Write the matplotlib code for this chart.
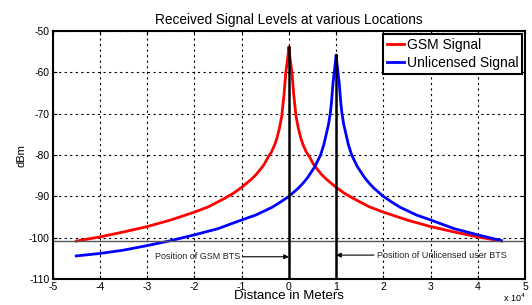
import numpy as np
import matplotlib.pyplot as plt
from matplotlib.ticker import FuncFormatter

# posicoes das BTS (m)
gsm_bts = 0
unl_bts = 10000

# distancia a partir da BTS (m) e nivel (dBm)
gsm_dist = [0, 150, 300, 650, 1000, 1500, 2000, 2500, 3000, 3700, 4400, 5200, 6000, 7000,
            8000, 10000, 11700, 13500, 17000, 20000, 25000, 30000, 35000, 40000, 45000]
gsm_dbm = [-53.8, -55.5, -57.0, -60.0, -65.0, -70.5, -73.5, -75.8, -77.5, -79.3, -80.5,
           -82.2, -83.4, -84.8, -85.9, -87.8, -89.2, -90.4, -92.5, -93.8, -95.7, -97.3,
           -98.6, -99.8, -100.8]

unl_dist = [0, 150, 300, 650, 1000, 1250, 1600, 2000, 2600, 3300, 4500, 5200, 6000, 7000,
            8000, 10000, 11700, 13500, 17000, 20000, 25000, 30000, 35000, 40000, 45000,
            50000, 55000]
unl_dbm = [-55.8, -57.5, -59.0, -62.5, -67.5, -70.0, -72.5, -74.5, -77.5, -80.0, -82.8,
           -84.0, -85.4, -86.8, -88.0, -90.0, -91.3, -92.6, -94.5, -95.7, -97.8, -99.3,
           -100.7, -101.9, -103.0, -103.8, -104.4]

limiar = -100.8  # linha horizontal

x_min, x_max = -45000, 45000

def montar_curva(pos, dist, dbm):
    """Espelha a curva em torno da BTS e corta no intervalo do grafico."""
    dist = np.array(dist, dtype=float)
    dbm = np.array(dbm, dtype=float)
    x = np.concatenate([pos - dist[::-1], pos + dist[1:]])
    y = np.concatenate([dbm[::-1], dbm[1:]])
    m = (x >= x_min) & (x <= x_max)
    return x[m], y[m]

plt.rcParams['font.family'] = ['Liberation Sans', 'DejaVu Sans']
plt.rcParams['axes.unicode_minus'] = False

fig = plt.figure(figsize=(5.32, 3.05), dpi=100)
ax = fig.add_axes([0.099, 0.085, 0.888, 0.813])

xg, yg = montar_curva(gsm_bts, gsm_dist, gsm_dbm)
xu, yu = montar_curva(unl_bts, unl_dist, unl_dbm)

ax.plot(xg, yg, color='red', lw=2, label='GSM Signal')
ax.plot(xu, yu, color='blue', lw=2, label='Unlicensed Signal')

ax.axhline(limiar, color='#555555', lw=1)
ax.plot([gsm_bts, gsm_bts], [-110, gsm_dbm[0]], color='black', lw=1.8)
ax.plot([unl_bts, unl_bts], [-110, unl_dbm[0]], color='black', lw=1.8)

ax.annotate('Position of GSM BTS', xy=(gsm_bts, -104.6), xytext=(-10300, -104.6),
            ha='right', va='center', fontsize=6.5, color='#222222',
            arrowprops=dict(arrowstyle='-|>', color='black', lw=0.8, mutation_scale=7,
                            shrinkA=0, shrinkB=0))
ax.annotate('Position of Unlicensed user BTS', xy=(unl_bts, -104.2), xytext=(18600, -104.2),
            ha='left', va='center', fontsize=6.5, color='#222222',
            arrowprops=dict(arrowstyle='-|>', color='black', lw=0.8, mutation_scale=7,
                            shrinkA=0, shrinkB=0))

ax.set_xlim(-50000, 50000)
ax.set_ylim(-110, -50)
ax.set_xticks(np.arange(-50000, 50001, 10000))
ax.set_yticks(np.arange(-110, -49, 10))
ax.xaxis.set_major_formatter(FuncFormatter(lambda v, p: '%g' % (v / 1e4)))

ax.grid(True, color='black', linestyle=(0, (2, 3)), lw=0.8)
ax.tick_params(direction='in', top=True, right=True, labelsize=7.5, length=3, pad=2)
for s in ax.spines.values():
    s.set_linewidth(1.5)

ax.set_title('Received Signal Levels at various Locations', fontsize=9.8, pad=5)
ax.set_xlabel('Distance in Meters', fontsize=9.5, labelpad=-1)
ax.set_ylabel('dBm', fontsize=8, labelpad=2)

# fator de escala do eixo x
fig.text(0.945, 0.003, r'x 10$^4$', fontsize=6.5, ha='left', va='bottom')

leg = ax.legend(loc='upper right', fontsize=10, fancybox=False, framealpha=1,
                edgecolor='black', handlelength=1.2, handletextpad=0.2,
                borderpad=0.3, labelspacing=0.25, borderaxespad=0.2)
leg.get_frame().set_linewidth(1.5)

fig.savefig('out.png', dpi=100)
